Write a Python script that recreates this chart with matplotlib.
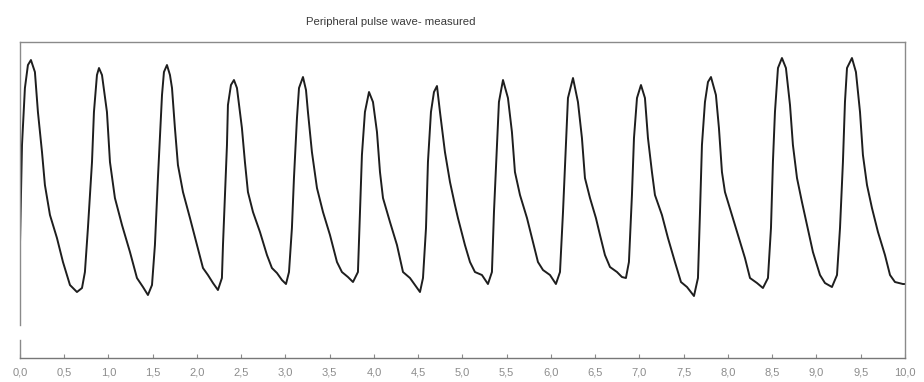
import numpy as np
import matplotlib
matplotlib.use("Agg")
import matplotlib.pyplot as plt
from matplotlib.ticker import FuncFormatter, MultipleLocator

# ── DATA ───────────────────────────────────────────────────────────────────────
TITLE = "Peripheral pulse wave- measured"

# time in seconds, one beat per row (rise -> peak -> decay -> trough)
t_sec = [
    0.000, 0.023, 0.056, 0.090, 0.124,
    0.169, 0.203, 0.249, 0.282, 0.339, 0.418, 0.486, 0.565, 0.644,
    0.701, 0.734, 0.768, 0.814, 0.836, 0.870, 0.893,
    0.927, 0.983, 1.017, 1.073, 1.153, 1.243, 1.322, 1.390, 1.446,
    1.492, 1.525, 1.559, 1.605, 1.627, 1.661,
    1.695, 1.718, 1.751, 1.785, 1.842, 1.921, 2.000, 2.068, 2.124, 2.181, 2.237,
    2.282, 2.294, 2.316, 2.339, 2.350, 2.384, 2.418,
    2.452, 2.508, 2.542, 2.576, 2.633, 2.712, 2.791, 2.847, 2.904, 2.960, 3.006,
    3.040, 3.073, 3.096, 3.130, 3.153, 3.198,
    3.232, 3.254, 3.299, 3.356, 3.424, 3.503, 3.582, 3.638, 3.706, 3.763,
    3.819, 3.842, 3.864, 3.898, 3.944,
    3.989, 4.034, 4.068, 4.102, 4.181, 4.260, 4.328, 4.407, 4.463, 4.520,
    4.554, 4.588, 4.610, 4.644, 4.678, 4.712,
    4.746, 4.802, 4.859, 4.915, 4.949, 5.028, 5.085, 5.141, 5.220, 5.288,
    5.333, 5.356, 5.390, 5.412, 5.458,
    5.514, 5.559, 5.593, 5.650, 5.729, 5.797, 5.853, 5.910, 5.989, 6.056,
    6.102, 6.136, 6.169, 6.192, 6.249,
    6.305, 6.350, 6.384, 6.441, 6.508, 6.554, 6.610, 6.667, 6.746, 6.802, 6.847,
    6.881, 6.915, 6.938, 6.972, 7.017,
    7.062, 7.096, 7.141, 7.175, 7.254, 7.322, 7.401, 7.469, 7.537, 7.616,
    7.661, 7.684, 7.706, 7.740, 7.774, 7.808,
    7.864, 7.898, 7.932, 7.966, 8.045, 8.113, 8.192, 8.249, 8.328, 8.395,
    8.452, 8.486, 8.508, 8.531, 8.565, 8.610,
    8.655, 8.701, 8.734, 8.780, 8.836, 8.893, 8.960, 9.040, 9.096, 9.175,
    9.232, 9.266, 9.299, 9.322, 9.345, 9.401,
    9.446, 9.492, 9.525, 9.571, 9.627, 9.695, 9.774, 9.831, 9.887, 9.977, 10.000,
]

# amplitude, arbitrary units
pulse = [
    11.3, 21.3, 27.0, 29.3, 29.8,
    28.6, 24.6, 20.6, 17.3, 14.3, 12.0, 9.6, 7.3, 6.6,
    7.0, 8.6, 13.0, 19.6, 24.6, 28.3, 29.0,
    28.3, 24.6, 19.6, 16.0, 13.3, 10.6, 8.0, 7.1, 6.3,
    7.3, 11.3, 18.0, 26.3, 28.6, 29.3,
    28.3, 27.0, 23.0, 19.3, 16.6, 14.0, 11.3, 9.0, 8.3, 7.5, 6.8,
    8.0, 11.3, 16.3, 21.3, 25.3, 27.3, 27.8,
    27.0, 23.0, 19.6, 16.6, 14.6, 12.6, 10.3, 9.0, 8.5, 7.8, 7.4,
    8.6, 13.0, 18.0, 24.0, 27.0, 28.1,
    26.8, 24.6, 20.6, 17.0, 14.6, 12.3, 9.6, 8.6, 8.1, 7.6,
    8.6, 14.6, 20.3, 24.6, 26.6,
    25.6, 22.6, 18.6, 16.0, 13.6, 11.3, 8.6, 8.0, 7.3, 6.6,
    8.0, 13.0, 19.6, 24.6, 26.6, 27.2,
    24.6, 20.6, 17.6, 15.3, 14.0, 11.3, 9.6, 8.6, 8.3, 7.4,
    8.6, 14.6, 21.3, 25.6, 27.8,
    26.0, 22.6, 18.6, 16.3, 14.0, 11.6, 9.6, 8.8, 8.3, 7.4,
    8.6, 14.6, 21.3, 26.0, 28.0,
    25.6, 22.0, 18.0, 16.0, 14.0, 12.3, 10.3, 9.1, 8.6, 8.1, 8.0,
    9.6, 16.3, 22.0, 26.0, 27.3,
    26.0, 22.0, 18.6, 16.3, 14.3, 12.0, 9.6, 7.6, 7.1, 6.2,
    8.0, 14.6, 21.3, 25.6, 27.6, 28.1,
    26.3, 23.0, 18.6, 16.6, 14.3, 12.3, 10.0, 8.0, 7.5, 7.0,
    8.0, 13.0, 19.6, 24.6, 29.0, 30.0,
    29.0, 25.3, 21.3, 18.0, 15.6, 13.3, 10.6, 8.3, 7.5, 7.1,
    8.3, 13.0, 19.6, 25.6, 29.0, 30.0,
    28.6, 24.6, 20.3, 17.3, 15.0, 12.6, 10.3, 8.3, 7.6, 7.4, 7.4,
]

# ── STYLE ──────────────────────────────────────────────────────────────────────
LINE_COL  = "#1e1e1e"
FRAME_COL = "#8a8a8a"
LABEL_COL = "#8c8c8c"
Y_TOP     = 31.6

plt.rcParams["font.family"] = ["Liberation Sans", "DejaVu Sans"]

fig = plt.figure(figsize=(9.24, 3.82), dpi=100)
ax = fig.add_axes([0.0216, 0.0628, 0.9578, 0.8272])

ax.plot(t_sec, pulse, color=LINE_COL, lw=1.4, solid_joinstyle="round")

ax.set_xlim(0, 10)
ax.set_ylim(0, Y_TOP)
ax.xaxis.set_major_locator(MultipleLocator(0.5))
ax.xaxis.set_major_formatter(FuncFormatter(lambda v, p: f"{v:.1f}".replace(".", ",")))
ax.set_yticks([])
ax.tick_params(axis="x", direction="in", length=3, width=0.8, color=FRAME_COL,
               labelsize=8, labelcolor=LABEL_COL, pad=7)

for side in ("top", "right", "bottom"):
    ax.spines[side].set_color(FRAME_COL)
    ax.spines[side].set_linewidth(1.0)
ax.spines["bottom"].set_color("#777777")

# left axis is drawn with a small break near the bottom
ax.spines["left"].set_visible(False)
ax.plot([0, 0], [3.3, Y_TOP], color=FRAME_COL, lw=1.0, clip_on=False)
ax.plot([0, 0], [0, 1.8], color=FRAME_COL, lw=1.0, clip_on=False)

fig.text(0.423, 0.942, TITLE, fontsize=8.2, color="#3a3a3a", ha="center", va="center")

fig.savefig("out.png", dpi=100)
